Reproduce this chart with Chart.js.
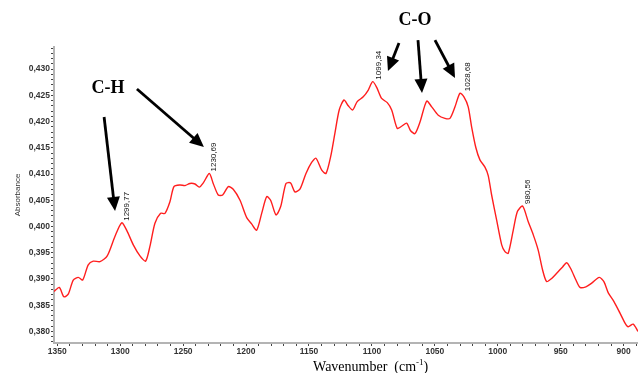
<!DOCTYPE html>
<html>
<head>
<meta charset="utf-8">
<script src="https://cdn.jsdelivr.net/npm/chart.js@4.4.1/dist/chart.umd.min.js"></script>
<style>
  html, body { margin: 0; padding: 0; background: #fff; }
  canvas { display: block; }
</style>
</head>
<body>
<canvas id="ftir" width="638" height="373"></canvas>
<script>
// spectrum (cm-1, absorbance)
const wavenumbers = [
  1352.6, 1348.4, 1344.7, 1341.3, 1337.3, 1333.3, 1329.8, 1325.4, 1321.4, 1316.1,
  1310.3, 1304.2, 1298.8, 1294.9, 1289.6, 1284.3, 1279.8, 1276.4, 1272.4, 1267.9,
  1264.4, 1260.5, 1257.3, 1252.5, 1248.5, 1244.6, 1240.6, 1237.2, 1234.0, 1229.2,
  1226.1, 1222.1, 1218.6, 1214.1, 1210.2, 1204.8, 1199.5, 1195.6, 1191.6, 1187.6,
  1183.6, 1180.5, 1176.2, 1172.5, 1168.3, 1164.6, 1161.2, 1157.2, 1152.4, 1147.9,
  1144.5, 1140.0, 1136.5, 1132.8, 1129.4, 1126.0, 1122.2, 1118.8, 1115.3, 1111.7,
  1106.9, 1102.9, 1099.4, 1096.2, 1092.3, 1087.8, 1084.3, 1079.9, 1076.4, 1072.4,
  1069.4, 1065.8, 1061.8, 1056.5, 1052.5, 1047.3, 1042.0, 1038.0, 1034.0, 1030.1,
  1026.9, 1023.5, 1020.8, 1017.4, 1014.2, 1010.2, 1007.6, 1004.9, 1000.9, 996.9,
  994.3, 991.7, 987.7, 984.5, 980.3, 975.8, 971.8, 967.9, 964.4, 961.2,
  957.2, 952.8, 948.5, 945.3, 942.1, 937.9, 934.7, 930.0, 925.4, 919.4,
  915.7, 912.1, 907.7, 902.9, 898.9, 896.4, 892.4, 888.6
];
const absorbance = [
  0.3876, 0.3884, 0.3866, 0.3871, 0.3898, 0.3903, 0.3898, 0.3927, 0.3934, 0.3933,
  0.3944, 0.3981, 0.4007, 0.3993, 0.3965, 0.3944, 0.3934, 0.3962, 0.4006, 0.4025,
  0.4025, 0.4047, 0.4076, 0.4079, 0.4078, 0.4082, 0.4081, 0.4075, 0.4083, 0.4101,
  0.4082, 0.4060, 0.4060, 0.4076, 0.4071, 0.4050, 0.4017, 0.4005, 0.3993, 0.4025,
  0.4057, 0.4050, 0.4022, 0.4038, 0.4082, 0.4083, 0.4066, 0.4071, 0.4101, 0.4122,
  0.4130, 0.4108, 0.4101, 0.4133, 0.4178, 0.4222, 0.4241, 0.4230, 0.4222, 0.4238,
  0.4247, 0.4260, 0.4276, 0.4265, 0.4244, 0.4236, 0.4222, 0.4187, 0.4191, 0.4197,
  0.4183, 0.4177, 0.4199, 0.4239, 0.4228, 0.4212, 0.4206, 0.4206, 0.4228, 0.4254,
  0.4247, 0.4228, 0.4190, 0.4150, 0.4127, 0.4113, 0.4097, 0.4060, 0.4012, 0.3965,
  0.3952, 0.3949, 0.3993, 0.4028, 0.4039, 0.4009, 0.3984, 0.3955, 0.3917, 0.3895,
  0.3901, 0.3912, 0.3923, 0.3931, 0.3920, 0.3898, 0.3884, 0.3885, 0.3892, 0.3903,
  0.3895, 0.3873, 0.3857, 0.3835, 0.3816, 0.3809, 0.3814, 0.3800
];

const peakWavenumbers = [1299.77, 1230.69, 1099.34, 1028.68, 980.56];
const peakLabels = ['1299,77', '1230,69', '1099,34', '1028,68', '980,56'];

const xTickLabels = [1350, 1300, 1250, 1200, 1150, 1100, 1050, 1000, 950, 900];
const yTickLabels = [0.380, 0.385, 0.390, 0.395, 0.400, 0.405, 0.410, 0.415, 0.420, 0.425, 0.430];

// band annotations, in data units
const bands = [
  { text: 'C-H', at: [1309.7, 0.42638] },
  { text: 'C-O', at: [1065.8, 0.43933] }
];
const arrows = [
  { from: [1312.8, 0.42086], to: [1304.1, 0.40295] },
  { from: [1286.7, 0.42619], to: [1233.5, 0.41514] },
  { from: [1078.5, 0.43495], to: [1087.3, 0.42962] },
  { from: [1063.4, 0.43552], to: [1060.2, 0.42543] },
  { from: [1049.9, 0.43552], to: [1034.0, 0.42829] }
];

const isMajor = (v, list) => list.some(t => Math.abs(t - v) < 1e-7);

const annotate = {
  id: 'annotate',
  afterDraw(chart) {
    const { ctx, scales: { x, y } } = chart;
    ctx.save();

    // arrows
    ctx.fillStyle = '#000';
    ctx.strokeStyle = '#000';
    ctx.lineWidth = 2.8;
    arrows.forEach(a => {
      const x0 = x.getPixelForValue(a.from[0]), y0 = y.getPixelForValue(a.from[1]);
      const x1 = x.getPixelForValue(a.to[0]), y1 = y.getPixelForValue(a.to[1]);
      const len = Math.hypot(x1 - x0, y1 - y0);
      const ux = (x1 - x0) / len, uy = (y1 - y0) / len;
      const head = 14, half = 6.5;
      const bx = x1 - ux * head, by = y1 - uy * head;
      ctx.beginPath();
      ctx.moveTo(x0, y0);
      ctx.lineTo(bx + ux, by + uy);
      ctx.stroke();
      ctx.beginPath();
      ctx.moveTo(x1, y1);
      ctx.lineTo(bx - uy * half, by + ux * half);
      ctx.lineTo(bx + uy * half, by - ux * half);
      ctx.closePath();
      ctx.fill();
    });

    // band names
    ctx.font = 'bold 18px "Liberation Serif", "Times New Roman", serif';
    ctx.textAlign = 'center';
    ctx.textBaseline = 'middle';
    bands.forEach(b => {
      ctx.fillText(b.text, x.getPixelForValue(b.at[0]), y.getPixelForValue(b.at[1]));
    });

    // peak labels, rotated
    ctx.font = '8px "Liberation Sans Narrow", "Liberation Sans", Arial, sans-serif';
    ctx.fillStyle = '#111';
    peakWavenumbers.forEach((wn, i) => {
      let top = -Infinity;
      wavenumbers.forEach((w, j) => {
        if (Math.abs(w - wn) < 4 && absorbance[j] > top) top = absorbance[j];
      });
      const px = x.getPixelForValue(wn) + 2;
      const py = y.getPixelForValue(top) - 2;
      ctx.save();
      ctx.translate(px, py);
      ctx.rotate(-Math.PI / 2);
      ctx.textAlign = 'left';
      ctx.textBaseline = 'top';
      ctx.fillText(peakLabels[i], 0, 0);
      ctx.restore();
    });

    // x axis title with superscript
    ctx.fillStyle = '#000';
    ctx.textAlign = 'left';
    ctx.textBaseline = 'alphabetic';
    const main = 'Wavenumber  (cm', sup = '-1', close = ')';
    ctx.font = '14px "Liberation Serif", "Times New Roman", serif';
    const wMain = ctx.measureText(main).width;
    const wClose = ctx.measureText(close).width;
    ctx.font = '9px "Liberation Serif", "Times New Roman", serif';
    const wSup = ctx.measureText(sup).width;
    const cx = x.getPixelForValue(1101);
    let tx = cx - (wMain + wSup + wClose) / 2;
    const base = chart.height - 2;
    ctx.font = '14px "Liberation Serif", "Times New Roman", serif';
    ctx.fillText(main, tx, base);
    tx += wMain;
    ctx.font = '9px "Liberation Serif", "Times New Roman", serif';
    ctx.fillText(sup, tx, base - 6);
    tx += wSup;
    ctx.font = '14px "Liberation Serif", "Times New Roman", serif';
    ctx.fillText(close, tx, base);

    ctx.restore();
  }
};

const tickFont = { family: '"Liberation Sans", Arial, sans-serif', size: 8.5, weight: 'bold' };

new Chart(document.getElementById('ftir'), {
  type: 'line',
  data: {
    datasets: [{
      data: wavenumbers.map((w, i) => ({ x: w, y: absorbance[i] })),
      borderColor: '#ff1e1e',
      borderWidth: 1.4,
      pointRadius: 0,
      tension: 0.25,
      fill: false
    }]
  },
  options: {
    responsive: false,
    animation: false,
    devicePixelRatio: 1,
    layout: { padding: { top: 47, right: 0, left: 0, bottom: 0 } },
    plugins: { legend: { display: false }, tooltip: { enabled: false } },
    scales: {
      x: {
        type: 'linear',
        reverse: true,
        min: 888.6,
        max: 1352.6,
        afterBuildTicks: (s) => {
          const t = [];
          for (let v = 1350; v >= 890; v -= 10) t.push({ value: v });
          s.ticks = t;
        },
        afterFit: (s) => { s.height = 30; },
        border: { display: true, color: '#b4b4b4', width: 2 },
        grid: { drawOnChartArea: false, drawTicks: true, tickLength: 3, color: '#444', lineWidth: 1 },
        ticks: {
          autoSkip: false,
          maxRotation: 0,
          padding: 1,
          color: '#333',
          font: tickFont,
          callback: (v) => isMajor(v, xTickLabels) ? String(v) : ''
        }
      },
      y: {
        min: 0.3778,
        max: 0.4342,
        afterBuildTicks: (s) => {
          const t = [];
          for (let i = 378; i <= 434; i++) t.push({ value: i / 1000 });
          s.ticks = t;
        },
        afterFit: (s) => { s.width = 54; },
        border: { display: true, color: '#b4b4b4', width: 2 },
        grid: { drawOnChartArea: false, drawTicks: true, tickLength: 3, color: '#444', lineWidth: 1 },
        title: {
          display: true,
          text: 'Absorbance',
          color: '#333',
          font: { family: '"Liberation Sans", Arial, sans-serif', size: 8 },
          padding: { top: 13, bottom: 0 }
        },
        ticks: {
          autoSkip: false,
          padding: 1,
          color: '#333',
          font: tickFont,
          callback: (v) => isMajor(v, yTickLabels) ? v.toFixed(3).replace('.', ',') : ''
        }
      }
    }
  },
  plugins: [annotate]
});
</script>
</body>
</html>
